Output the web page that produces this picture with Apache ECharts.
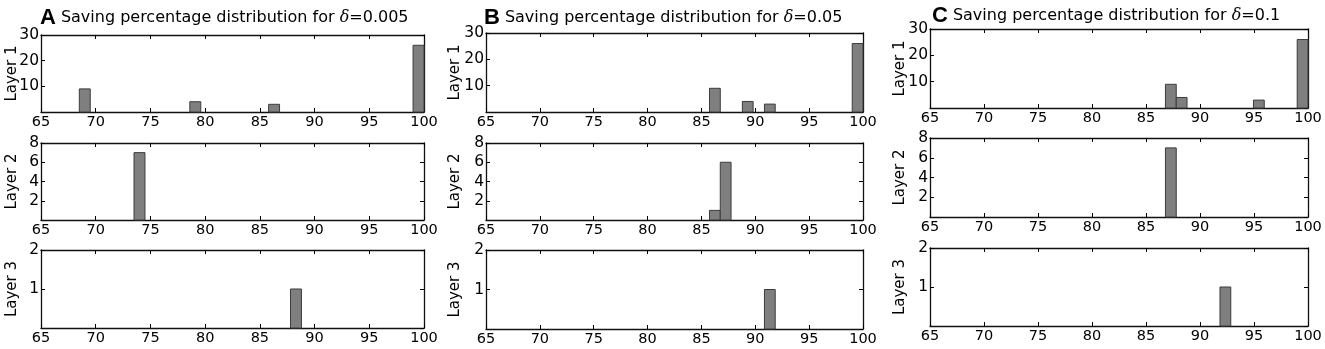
<!DOCTYPE html>
<html>
<head>
<meta charset="utf-8">
<script src="https://cdn.jsdelivr.net/npm/echarts@6/dist/echarts.min.js"></script>
<style>
  html, body { margin: 0; padding: 0; background: #fff; }
  #chart { width: 1325px; height: 349px; }
</style>
</head>
<body>
<div id="chart"></div>
<script>
// saving percentage histograms, bin width 1
const binWidth = 1
const xTicks = [65, 70, 75, 80, 85, 90, 95, 100]

const panelLetters = ['A', 'B', 'C']
const deltas = ['0.005', '0.05', '0.1']
const layerNames = ['Layer 1', 'Layer 2', 'Layer 3']
const layerYMax = [30, 8, 2]
const layerYStep = [10, 2, 1]

// bin centres and counts, panel A
const aLayer1Centers = [69.0, 79.1, 86.3, 99.5]
const aLayer1Counts = [9, 4, 3, 26]
const aLayer2Centers = [74.0]
const aLayer2Counts = [7]
const aLayer3Centers = [88.3]
const aLayer3Counts = [1]

// panel B
const bLayer1Centers = [86.25, 89.3, 91.35, 99.5]
const bLayer1Counts = [9, 4, 3, 26]
const bLayer2Centers = [86.25, 87.25]
const bLayer2Counts = [1, 6]
const bLayer3Centers = [91.35]
const bLayer3Counts = [1]

// panel C
const cLayer1Centers = [87.3, 88.3, 95.45, 99.5]
const cLayer1Counts = [9, 4, 3, 26]
const cLayer2Centers = [87.3]
const cLayer2Counts = [7]
const cLayer3Centers = [92.35]
const cLayer3Counts = [1]

const centers = [
  [aLayer1Centers, aLayer2Centers, aLayer3Centers],
  [bLayer1Centers, bLayer2Centers, bLayer3Centers],
  [cLayer1Centers, cLayer2Centers, cLayer3Centers]
]
const counts = [
  [aLayer1Counts, aLayer2Counts, aLayer3Counts],
  [bLayer1Counts, bLayer2Counts, bLayer3Counts],
  [cLayer1Counts, cLayer2Counts, cLayer3Counts]
]

// layout (pixels)
const panelLeft = [41, 486, 930]
const panelWidth = [383, 377, 378]
const panelTops = [[35, 143, 250], [33, 143, 250], [29, 138, 248]]
const panelHeights = [[77, 77, 78], [79, 77, 79], [79, 79, 78]]
const nameGaps = [21, 23, 22]
const titleLeft = [35, 479, 927]

const font = 'DejaVu Sans'
const black = '#000'

const grids = [], xAxes = [], yAxes = [], series = [], titles = []

for (let p = 0; p < 3; p++) {
  titles.push({
    left: titleLeft[p],
    top: p === 2 ? 0 : 2,
    text: '{b|' + panelLetters[p] + '} {t|Saving percentage distribution for }{i|δ}{t|=' + deltas[p] + '}',
    textStyle: {
      fontWeight: 'normal',
      rich: {
        b: { fontFamily: 'Liberation Sans', fontWeight: 'bold', fontSize: 22, color: black },
        t: { fontFamily: font, fontWeight: 'normal', fontSize: 16, color: black },
        i: { fontFamily: 'DejaVu Serif', fontWeight: 'normal', fontStyle: 'italic', fontSize: 16, color: black }
      }
    }
  })
  for (let l = 0; l < 3; l++) {
    const g = grids.length
    grids.push({
      left: panelLeft[p],
      top: panelTops[p][l],
      width: panelWidth[p],
      height: panelHeights[p][l],
      containLabel: false
    })
    const tick = { show: true, inside: true, length: 4, lineStyle: { color: black, width: 1 } }
    const line = { show: true, onZero: false, lineStyle: { color: '#111', width: 1.3 } }
    // bottom x axis with labels
    xAxes.push({
      type: 'value', gridIndex: g, position: 'bottom',
      min: 65, max: 100, interval: 5,
      axisLine: line, axisTick: tick, splitLine: { show: false },
      axisLabel: { color: black, fontFamily: font, fontSize: 14.5, margin: 3 }
    })
    // top x axis, ticks only
    xAxes.push({
      type: 'value', gridIndex: g, position: 'top',
      min: 65, max: 100, interval: 5,
      axisLine: line, axisTick: tick, splitLine: { show: false },
      axisLabel: { show: false }
    })
    yAxes.push({
      type: 'value', gridIndex: g, position: 'left',
      min: 0, max: layerYMax[l], interval: layerYStep[l],
      name: layerNames[l], nameLocation: 'middle', nameGap: nameGaps[p],
      nameMoveOverlap: false,
      nameTextStyle: { color: black, fontFamily: font, fontSize: 15 },
      axisLine: line, axisTick: tick, splitLine: { show: false },
      axisLabel: { color: black, fontFamily: font, fontSize: 15.5, margin: 2, showMinLabel: false }
    })
    yAxes.push({
      type: 'value', gridIndex: g, position: 'right',
      min: 0, max: layerYMax[l], interval: layerYStep[l],
      axisLine: line, axisTick: tick, splitLine: { show: false },
      axisLabel: { show: false }
    })
    const data = centers[p][l].map((c, i) => [c, counts[p][l][i]])
    series.push({
      type: 'custom',
      xAxisIndex: g * 2,
      yAxisIndex: g * 2,
      data: data,
      encode: { x: 0, y: 1 },
      renderItem(params, api) {
        const c = api.value(0)
        const n = api.value(1)
        const p0 = api.coord([c - binWidth / 2, n])
        const p1 = api.coord([c + binWidth / 2, 0])
        return {
          type: 'rect',
          shape: { x: p0[0], y: p0[1], width: p1[0] - p0[0], height: p1[1] - p0[1] },
          style: { fill: '#7f7f7f', stroke: '#3c3c3c', lineWidth: 1 }
        }
      }
    })
  }
}

const chart = echarts.init(document.getElementById('chart'), null, { renderer: 'canvas' })
chart.setOption({
  backgroundColor: '#fff',
  animation: false,
  title: titles,
  grid: grids,
  xAxis: xAxes,
  yAxis: yAxes,
  series: series
})
</script>
</body>
</html>
